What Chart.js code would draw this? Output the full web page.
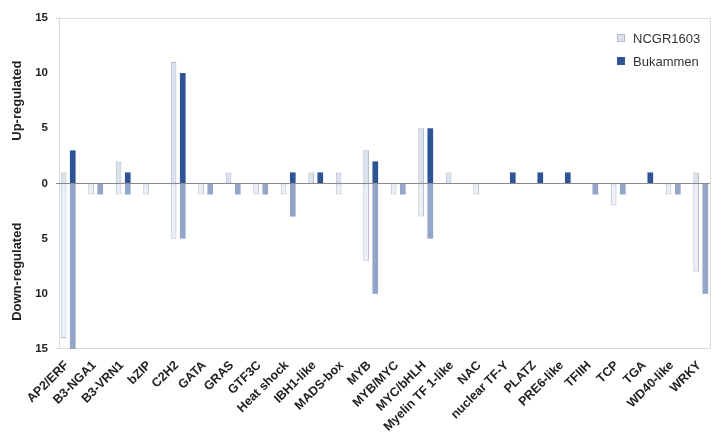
<!DOCTYPE html>
<html>
<head>
<meta charset="utf-8">
<script src="https://cdn.jsdelivr.net/npm/chart.js@4.4.1/dist/chart.umd.min.js"></script>
<style>
  html, body { margin: 0; padding: 0; background: #fff; }
  #wrap { width: 725px; height: 439px; position: relative; }
</style>
</head>
<body>
<div id="wrap"><canvas id="tf-chart"></canvas></div>
<script>
const categories = ["AP2/ERF", "B3-NGA1", "B3-VRN1", "bZIP", "C2H2", "GATA", "GRAS", "GTF3C",
    "Heat shock", "IBH1-like", "MADS-box", "MYB", "MYB/MYC", "MYC/bHLH", "Myelin TF 1-like", "NAC",
    "nuclear TF-Y", "PLATZ", "PRE6-like", "TFIIH", "TCP", "TGA", "WD40-like", "WRKY"];
const ncgrUp   = [1, 0, 2, 0, 11, 0, 1, 0, 0, 1, 1, 3, 0, 5, 1, 0, 0, 0, 0, 0, 0, 0, 0, 1];
const ncgrDown = [14, 1, 1, 1, 5, 1, 0, 1, 1, 0, 1, 7, 1, 3, 0, 1, 0, 0, 0, 0, 2, 0, 1, 8];
const bukUp    = [3, 0, 1, 0, 10, 0, 0, 0, 1, 1, 0, 2, 0, 5, 0, 0, 1, 1, 1, 0, 0, 1, 0, 0];
const bukDown  = [15, 1, 1, 0, 5, 1, 1, 1, 3, 0, 0, 10, 1, 5, 0, 0, 0, 0, 0, 1, 1, 0, 1, 10];
const yTicks = [-15, -10, -5, 0, 5, 10, 15];
const legendItems = [
    { text: "NCGR1603", fill: "#dde3ee", stroke: "#b3bac8" },
    { text: "Bukammen", fill: "#2e5496", stroke: "#2e5496" }
];

const FONT = "'Liberation Sans', Arial, sans-serif";

// draws the plot frame, zero line, axis titles and legend
const decorations = {
    id: 'decorations',
    beforeDatasetsDraw(chart) {
        const { ctx, chartArea: a } = chart;
        const slot = (a.right - a.left) / categories.length;
        const right = a.right - slot / 3;
        ctx.save();
        ctx.strokeStyle = '#d9d9d9';
        ctx.lineWidth = 1;
        ctx.beginPath();
        ctx.moveTo(a.left - 3, a.top + 0.5);
        ctx.lineTo(right, a.top + 0.5);
        ctx.moveTo(a.left - 3, a.bottom - 0.5);
        ctx.lineTo(right, a.bottom - 0.5);
        ctx.moveTo(a.left + 0.5, a.top);
        ctx.lineTo(a.left + 0.5, a.bottom);
        ctx.moveTo(right + 0.5, a.top);
        ctx.lineTo(right + 0.5, a.bottom);
        ctx.stroke();
        ctx.restore();
    },
    afterDatasetsDraw(chart) {
        const { ctx, chartArea: a, scales } = chart;
        const slot = (a.right - a.left) / categories.length;
        const right = a.right - slot / 3;
        const y0 = Math.round(scales.y.getPixelForValue(0)) + 0.5;
        ctx.save();
        ctx.strokeStyle = '#8a8a8a';
        ctx.lineWidth = 1;
        ctx.beginPath();
        ctx.moveTo(a.left - 3, y0);
        ctx.lineTo(right, y0);
        ctx.stroke();

        // y axis titles
        ctx.fillStyle = '#222';
        ctx.font = "bold 13px " + FONT;
        ctx.textAlign = 'center';
        ctx.textBaseline = 'middle';
        const titles = [["Up-regulated", scales.y.getPixelForValue(7.5)], ["Down-regulated", scales.y.getPixelForValue(-8)]];
        titles.forEach(([t, y]) => {
            ctx.save();
            ctx.translate(17.5, y);
            ctx.rotate(-Math.PI / 2);
            ctx.fillText(t, 0, 0);
            ctx.restore();
        });

        // legend
        ctx.font = "13px " + FONT;
        ctx.textAlign = 'left';
        legendItems.forEach((item, i) => {
            const y = 38 + i * 23;
            ctx.fillStyle = item.fill;
            ctx.fillRect(617, y - 4, 8, 8);
            ctx.strokeStyle = item.stroke;
            ctx.strokeRect(617.5, y - 3.5, 7, 7);
            ctx.fillStyle = '#333';
            ctx.fillText(item.text, 633, y + 1);
        });
        ctx.restore();
    }
};

const barCommon = { barPercentage: 0.62, categoryPercentage: 1.0, borderSkipped: false };

new Chart(document.getElementById("tf-chart"), {
    type: 'bar',
    data: {
        labels: categories,
        datasets: [
            { label: "NCGR1603 up", data: ncgrUp, stack: 'N', backgroundColor: "#dbe2ed", borderColor: "#b3bac8", borderWidth: 1, ...barCommon },
            { label: "NCGR1603 down", data: ncgrDown.map(v => -v), stack: 'N', backgroundColor: "#ebeff6", borderColor: "#b8bfcc", borderWidth: 1, ...barCommon },
            { label: "Bukammen up", data: bukUp, stack: 'B', backgroundColor: "#2e5496", borderWidth: 0, ...barCommon },
            { label: "Bukammen down", data: bukDown.map(v => -v), stack: 'B', backgroundColor: "#93a5c8", borderWidth: 0, ...barCommon },
            { label: "", data: categories.map(() => 0), stack: 'P', backgroundColor: "rgba(0,0,0,0)", borderWidth: 0, ...barCommon }
        ]
    },
    options: {
        responsive: true,
        maintainAspectRatio: false,
        animation: false,
        layout: { padding: { left: 35, right: 4.4, top: 15, bottom: 0 } },
        plugins: {
            legend: { display: false },
            tooltip: { enabled: false }
        },
        scales: {
            x: {
                stacked: true,
                grid: { display: false, drawTicks: false },
                border: { display: false },
                ticks: {
                    autoSkip: false,
                    maxRotation: 45,
                    minRotation: 45,
                    padding: 9,
                    labelOffset: -6,
                    color: '#222',
                    font: { family: FONT, size: 12.5, weight: 'bold' }
                },
                afterFit: (scale) => { scale.height = 90; }
            },
            y: {
                stacked: true,
                min: -15,
                max: 15,
                grid: { display: false, drawTicks: false },
                border: { display: false },
                afterBuildTicks: (scale) => { scale.ticks = yTicks.map(v => ({ value: v })); },
                ticks: {
                    padding: 11,
                    color: '#222',
                    callback: (v) => Math.abs(v),
                    font: { family: FONT, size: 11.5, weight: 'bold' }
                },
                afterFit: (scale) => { scale.width = 24; }
            }
        }
    },
    plugins: [decorations]
});
</script>
</body>
</html>
